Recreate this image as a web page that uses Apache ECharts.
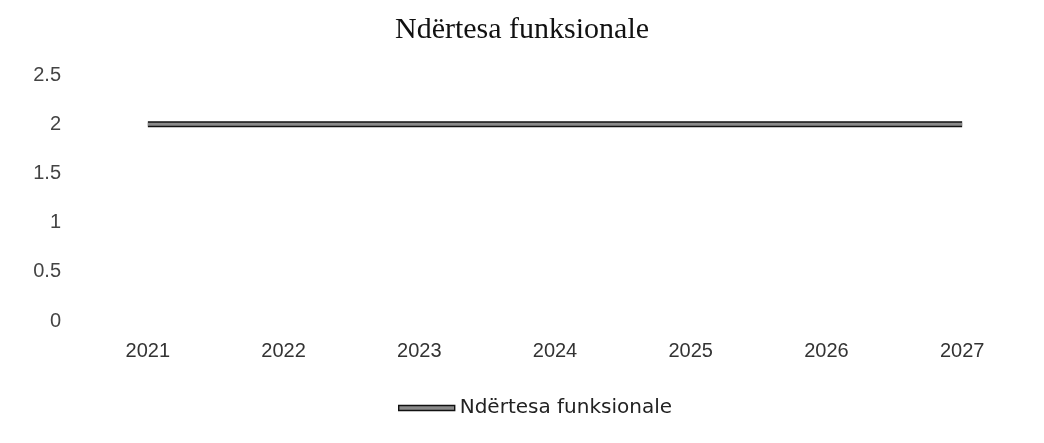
<!DOCTYPE html>
<html><head><meta charset="utf-8">
<script src="https://cdn.jsdelivr.net/npm/echarts@6/dist/echarts.min.js"></script>
<style>html,body{margin:0;padding:0;background:#fff}#c{width:1044px;height:443px}</style>
</head><body><div id="c"></div>
<script>
const categories = ['2021','2022','2023','2024','2025','2026','2027'];
const values = [2, 2, 2, 2, 2, 2, 2];
const yTicks = [0, 0.5, 1, 1.5, 2, 2.5];
const seriesName = 'Ndërtesa funksionale';

const chart = echarts.init(document.getElementById('c'));
chart.setOption({
  animation: false,
  title: {
    text: 'Ndërtesa funksionale', left: 'center', top: 10,
    textStyle: { fontFamily: 'Liberation Serif', fontWeight: 'normal', fontSize: 30, color: '#111' }
  },
  legend: {
    data: [seriesName], top: 393, left: 393, itemWidth: 56, itemHeight: 5, itemGap: 4,
    icon: 'rect',
    itemStyle: { color: '#8a8a8a', borderColor: '#111', borderWidth: 1.4 },
    textStyle: { fontFamily: 'DejaVu Sans', fontSize: 20, color: '#222' }
  },
  grid: { left: 80, right: 14, top: 75, bottom: 122 },
  xAxis: {
    type: 'category', data: categories, boundaryGap: true,
    axisLine: { show: false }, axisTick: { show: false }, splitLine: { show: false },
    axisLabel: { fontFamily: 'Liberation Sans', fontSize: 20, color: '#333', margin: 20 }
  },
  yAxis: {
    type: 'value', min: yTicks[0], max: yTicks[yTicks.length-1], interval: 0.5,
    axisLine: { show: false }, axisTick: { show: false }, splitLine: { show: false },
    axisLabel: { fontFamily: 'Liberation Sans', fontSize: 20, color: '#444', margin: 19 }
  },
  series: [
    { name: seriesName, type: 'line', data: values, symbol: 'none',
      lineStyle: { color: '#111', width: 6, cap: 'butt' }, itemStyle: { color: '#8a8a8a' } },
    { name: seriesName + ' ', type: 'line', data: values, symbol: 'none', silent: true,
      lineStyle: { color: '#8a8a8a', width: 3, cap: 'butt' } }
  ]
});
</script></body></html>
